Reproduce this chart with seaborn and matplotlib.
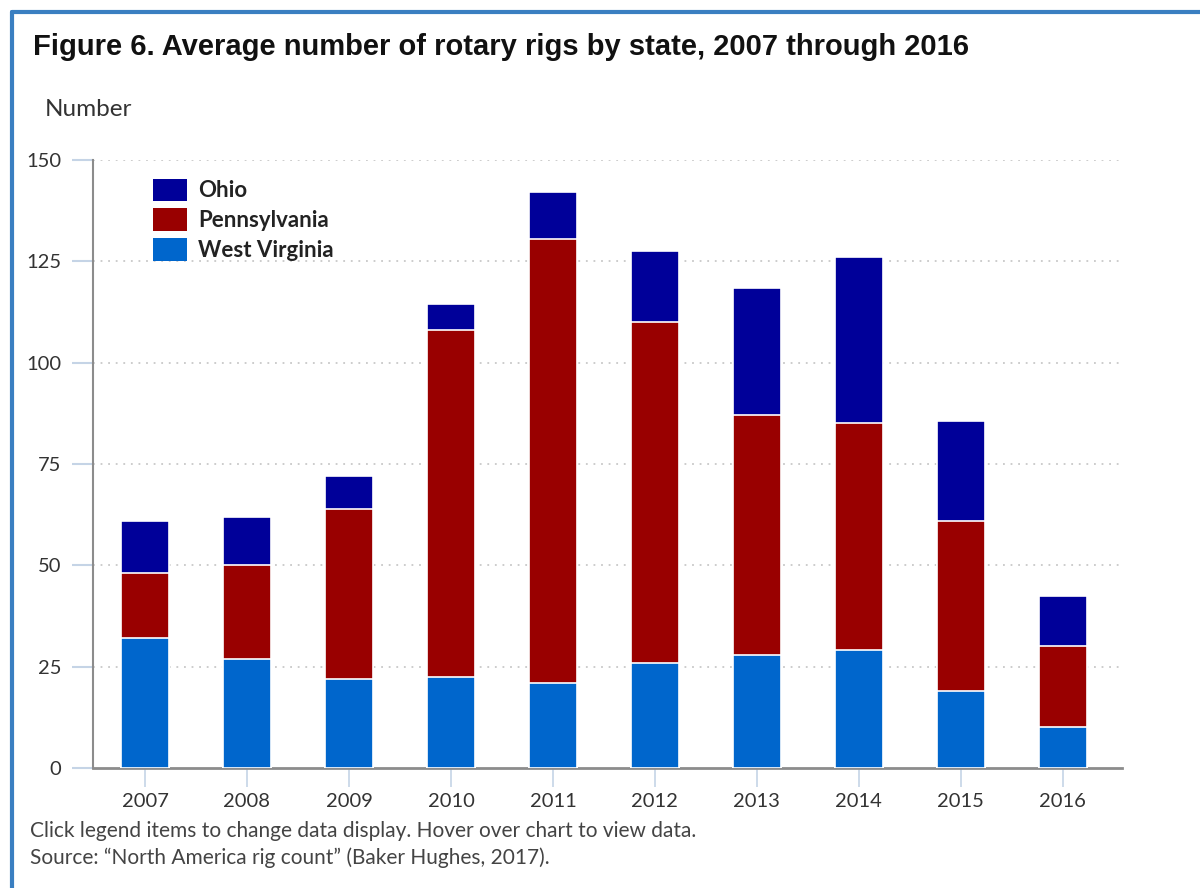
import matplotlib
matplotlib.use("Agg")
import matplotlib.pyplot as plt
import seaborn as sns
import pandas as pd
import numpy as np
from matplotlib.patches import Patch
from matplotlib.lines import Line2D

years = ["2007", "2008", "2009", "2010", "2011", "2012", "2013", "2014", "2015", "2016"]
west_virginia = [32, 27, 22, 22.5, 21, 26, 28, 29, 19, 10]
pennsylvania = [16, 23, 42, 85.5, 109.5, 84, 59, 56, 42, 20]
ohio = [13, 12, 8, 6.5, 11.5, 17.5, 31.5, 41, 24.5, 12.5]
y_ticks = [0, 25, 50, 75, 100, 125, 150]

c_oh, c_pa, c_wv = "#000099", "#990000", "#0066cc"

sns.set_theme(style="white")
plt.rcParams["font.family"] = ["Lato", "DejaVu Sans"]

fig = plt.figure(figsize=(12, 8.88), dpi=100)
ax = fig.add_axes([93 / 1200, 1 - 768 / 888, (1122 - 93) / 1200, (768 - 160) / 888])

wv = np.array(west_virginia)
pa_top = wv + np.array(pennsylvania)
oh_top = pa_top + np.array(ohio)

df = pd.DataFrame({"year": years, "wv": wv, "pa": pa_top, "oh": oh_top})
for col, color in [("oh", c_oh), ("pa", c_pa), ("wv", c_wv)]:
    sns.barplot(data=df, x="year", y=col, color=color, saturation=1, width=0.47,
                edgecolor="white", linewidth=1.2, ax=ax, zorder=3)

ax.set_ylim(0, 150)
ax.set_xlim(-0.51, 9.58)
ax.set_yticks(y_ticks)
ax.set_xlabel("")
ax.set_ylabel("")
for y in y_ticks[1:]:
    ax.axhline(y, color="#c8c8c8", linestyle=(0, (1, 3.2)), linewidth=1.3, zorder=1)

for s in ["top", "right"]:
    ax.spines[s].set_visible(False)
ax.spines["left"].set_color("#8c8c8c")
ax.spines["bottom"].set_color("#8c8c8c")
ax.spines["left"].set_linewidth(1.5)
ax.spines["bottom"].set_linewidth(2)
ax.tick_params(axis="y", length=15, width=1.5, color="#c5d4e6", pad=8, labelsize=14.5, labelcolor="#333333", direction="out")
ax.tick_params(axis="x", length=14, width=1.2, color="#c5d4e6", pad=4, labelsize=14.5, labelcolor="#333333", direction="out")
ax.tick_params(axis="y", which="major", left=True)
ax.tick_params(axis="x", which="major", bottom=True)

handles = [Patch(facecolor=c_oh, edgecolor="none", label="Ohio"),
           Patch(facecolor=c_pa, edgecolor="none", label="Pennsylvania"),
           Patch(facecolor=c_wv, edgecolor="none", label="West Virginia")]
leg = ax.legend(handles=handles, loc="upper left", bbox_to_anchor=(0.043, 0.995), frameon=False,
                prop={"family": ["Lato", "DejaVu Sans"], "weight": "bold", "size": 16},
                handlelength=1.55, handleheight=1.2, handletextpad=0.5, labelspacing=0.31,
                borderpad=0.2)
for t in leg.get_texts():
    t.set_color("#222222")

fig.text(33 / 1200, 1 - 47 / 888, "Figure 6. Average number of rotary rigs by state, 2007 through 2016",
         family=["Liberation Sans", "DejaVu Sans"], weight="bold", fontsize=21, va="center", ha="left", color="#111111")
fig.text(45 / 1200, 1 - 110 / 888, "Number", fontsize=17.5, va="center", ha="left", color="#333333")
fig.text(30 / 1200, 1 - 831 / 888, "Click legend items to change data display. Hover over chart to view data.",
         fontsize=15, va="center", ha="left", color="#444444")
fig.text(30 / 1200, 1 - 858 / 888, "Source: \u201cNorth America rig count\u201d (Baker Hughes, 2017).",
         fontsize=15, va="center", ha="left", color="#444444")

# frame lines (top and left)
fig.add_artist(Line2D([12 / 1200, 1.0], [1 - 12.5 / 888, 1 - 12.5 / 888], color="#3a7fc1", linewidth=3, transform=fig.transFigure))
fig.add_artist(Line2D([12 / 1200, 12 / 1200], [0.0, 1 - 12.5 / 888], color="#3a7fc1", linewidth=3, transform=fig.transFigure))

fig.savefig("out.png", dpi=100, facecolor="white")
